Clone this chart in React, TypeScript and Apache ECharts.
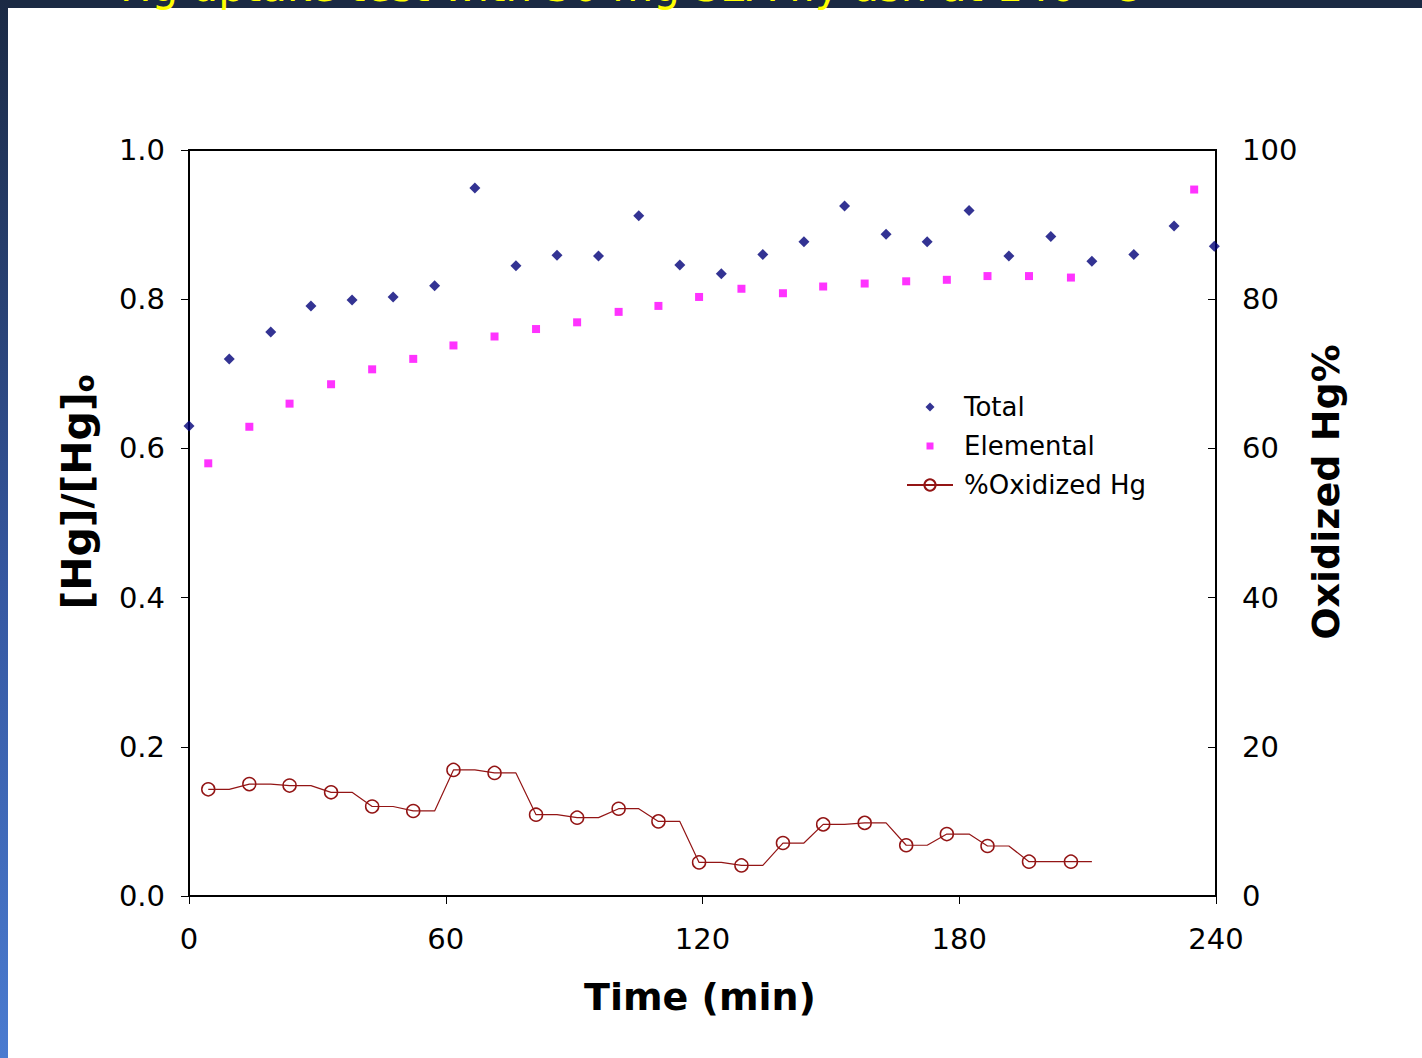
import React, { useEffect, useRef } from "react";
import * as echarts from "echarts";

// Sampling times (min) and normalised concentrations [Hg]/[Hg]o
const totalTime = [
  0, 9.4, 19.1, 28.5, 38.1, 47.7, 57.4, 66.8, 76.4, 86.0, 95.7, 105.1, 114.7,
  124.4, 134.1, 143.7, 153.2, 162.9, 172.5, 182.3, 191.6, 201.4, 211.0, 220.8,
  230.2, 239.6,
];
const totalRatio = [
  0.63, 0.72, 0.756, 0.791, 0.799, 0.803, 0.818, 0.949, 0.845, 0.859, 0.858,
  0.912, 0.846, 0.834, 0.86, 0.877, 0.925, 0.887, 0.877, 0.919, 0.858, 0.884,
  0.851, 0.86, 0.898, 0.871,
];

const elementalTime = [
  4.5, 14.1, 23.5, 33.2, 42.8, 52.4, 61.8, 71.4, 81.1, 90.7, 100.4, 109.7,
  119.2, 129.1, 138.8, 148.2, 157.9, 167.6, 177.1, 186.6, 196.3, 206.1, 234.9,
];
const elementalRatio = [
  0.58, 0.629, 0.66, 0.686, 0.706, 0.72, 0.738, 0.75, 0.76, 0.769, 0.783,
  0.791, 0.803, 0.814, 0.808, 0.817, 0.821, 0.824, 0.826, 0.831, 0.831, 0.829,
  0.947,
];

// Share of oxidized mercury (%), measured at the elemental sampling times
const oxidizedTime = [
  4.5, 14.1, 23.5, 33.2, 42.8, 52.4, 61.8, 71.4, 81.1, 90.7, 100.4, 109.7,
  119.2, 129.1, 138.8, 148.2, 157.9, 167.6, 177.1, 186.6, 196.3, 206.1,
];
const oxidizedPct = [
  14.3, 15.0, 14.8, 13.9, 12.0, 11.4, 16.9, 16.5, 10.9, 10.5, 11.7, 10.0, 4.5,
  4.1, 7.1, 9.6, 9.8, 6.8, 8.3, 6.7, 4.6, 4.6,
];

const xTicks = [0, 60, 120, 180, 240];

const FONT = "DejaVu Sans";
const OX_COLOR = "#931515";

// Each oxidized value is held until the next total-Hg sample, then the
// trace moves on to the following measurement.
function oxidizedTrace() {
  const pts: any[] = [];
  oxidizedTime.forEach((t, i) => {
    const v = oxidizedPct[i];
    pts.push({ value: [t, v] });
    const next = totalTime.find((tt) => tt > t);
    if (next !== undefined) pts.push({ value: [next, v], symbol: "none" });
  });
  return pts;
}

export default function App() {
  const ref = useRef<HTMLDivElement>(null);

  useEffect(() => {
    if (!ref.current) return;
    const chart = echarts.init(ref.current, undefined, { renderer: "svg" });

    const axisLine = { show: true, lineStyle: { color: "#000", width: 2 } };
    const labelStyle = { color: "#000", fontSize: 29, fontFamily: FONT };

    chart.setOption({
      animation: false,
      grid: {
        left: 189,
        top: 150,
        width: 1027,
        height: 746,
        show: true,
        borderColor: "#000",
        borderWidth: 2,
        backgroundColor: "transparent",
      },
      legend: {
        orient: "vertical",
        left: 901,
        top: 389,
        itemWidth: 46,
        itemHeight: 14,
        itemGap: 13,
        selectedMode: false,
        textStyle: {
          color: "#000",
          fontSize: 26,
          fontFamily: FONT,
          padding: [0, 0, 0, 6],
        },
        data: [
          { name: "Total", icon: "path://M0,0M14,14M7,2.5L11.5,7L7,11.5L2.5,7Z" },
          { name: "Elemental", icon: "path://M0,0M14,14M3.5,3.5H10.5V10.5H3.5Z" },
          { name: "%Oxidized Hg" },
        ],
      },
      xAxis: {
        type: "value",
        min: xTicks[0],
        max: xTicks[xTicks.length - 1],
        interval: xTicks[1] - xTicks[0],
        axisLine,
        axisTick: { show: true, length: 8, lineStyle: { color: "#000", width: 1 } },
        axisLabel: { ...labelStyle, margin: 28 },
        splitLine: { show: false },
      },
      yAxis: [
        {
          type: "value",
          min: 0,
          max: 1,
          interval: 0.2,
          axisLine,
          axisTick: { show: true, length: 8, lineStyle: { color: "#000", width: 1 } },
          axisLabel: {
            ...labelStyle,
            margin: 24,
            formatter: (v: number) => v.toFixed(1),
          },
          splitLine: { show: false },
        },
        {
          type: "value",
          position: "right",
          min: 0,
          max: 100,
          interval: 20,
          axisLine,
          axisTick: {
            show: true,
            inside: true,
            length: 8,
            lineStyle: { color: "#000", width: 1 },
          },
          axisLabel: { ...labelStyle, margin: 26 },
          splitLine: { show: false },
        },
      ],
      series: [
        {
          name: "Total",
          type: "scatter",
          symbol: "diamond",
          symbolSize: 11,
          itemStyle: { color: "#000078" },
          data: totalTime.map((t, i) => [t, totalRatio[i]]),
          clip: false,
          z: 3,
        },
        {
          name: "Elemental",
          type: "scatter",
          symbol: "rect",
          symbolSize: 8,
          itemStyle: { color: "#ff00ff" },
          data: elementalTime.map((t, i) => [t, elementalRatio[i]]),
          clip: false,
          z: 3,
        },
        {
          name: "%Oxidized Hg",
          type: "line",
          yAxisIndex: 1,
          symbol: "circle",
          symbolSize: 13,
          showAllSymbol: true,
          itemStyle: {
            color: "rgba(255,255,255,0)",
            borderColor: OX_COLOR,
            borderWidth: 1.5,
          },
          lineStyle: { color: OX_COLOR, width: 1.2 },
          data: oxidizedTrace(),
          z: 2,
        },
      ],
      graphic: [
        {
          type: "text",
          x: 120,
          y: 7,
          style: {
            text: "Hg uptake test with 30 mg SEA fly ash at 140 °C",
            fill: "#ffff00",
            font: `42px ${FONT}`,
            verticalAlign: "bottom",
            align: "left",
          },
        },
        {
          type: "text",
          x: 700,
          y: 997,
          style: {
            text: "Time (min)",
            fill: "#000",
            font: `bold 38px ${FONT}`,
            align: "center",
            verticalAlign: "middle",
          },
        },
        {
          type: "text",
          x: 77,
          y: 492,
          rotation: Math.PI / 2,
          style: {
            text: "{a|[Hg]/[Hg]}{b|o}",
            align: "center",
            verticalAlign: "middle",
            rich: {
              a: {
                fontFamily: FONT,
                fontWeight: "bold",
                fontSize: 41,
                lineHeight: 42,
                fill: "#000",
              },
              b: {
                fontFamily: FONT,
                fontWeight: "bold",
                fontSize: 26,
                lineHeight: 26,
                verticalAlign: "bottom",
                fill: "#000",
              },
            },
          },
        },
        {
          type: "text",
          x: 1326,
          y: 492,
          rotation: Math.PI / 2,
          style: {
            text: "Oxidized Hg%",
            fill: "#000",
            font: `bold 38px ${FONT}`,
            align: "center",
            verticalAlign: "middle",
          },
        },
      ],
    });

    return () => chart.dispose();
  }, []);

  return (
    <div
      style={{
        position: "fixed",
        left: 0,
        top: 0,
        width: 1422,
        height: 1058,
        background: "#1b2a44",
        overflow: "hidden",
      }}
    >
      <div
        style={{
          position: "absolute",
          left: 0,
          top: 0,
          width: 8,
          height: 1058,
          background: "linear-gradient(to bottom, #1b2a44 0%, #3557a0 55%, #4a7bd0 100%)",
        }}
      />
      <div
        style={{
          position: "absolute",
          left: 8,
          top: 8,
          width: 1414,
          height: 1050,
          background: "#ffffff",
        }}
      />
      <div
        ref={ref}
        style={{ position: "absolute", left: 0, top: 0, width: 1422, height: 1058 }}
      />
    </div>
  );
}
